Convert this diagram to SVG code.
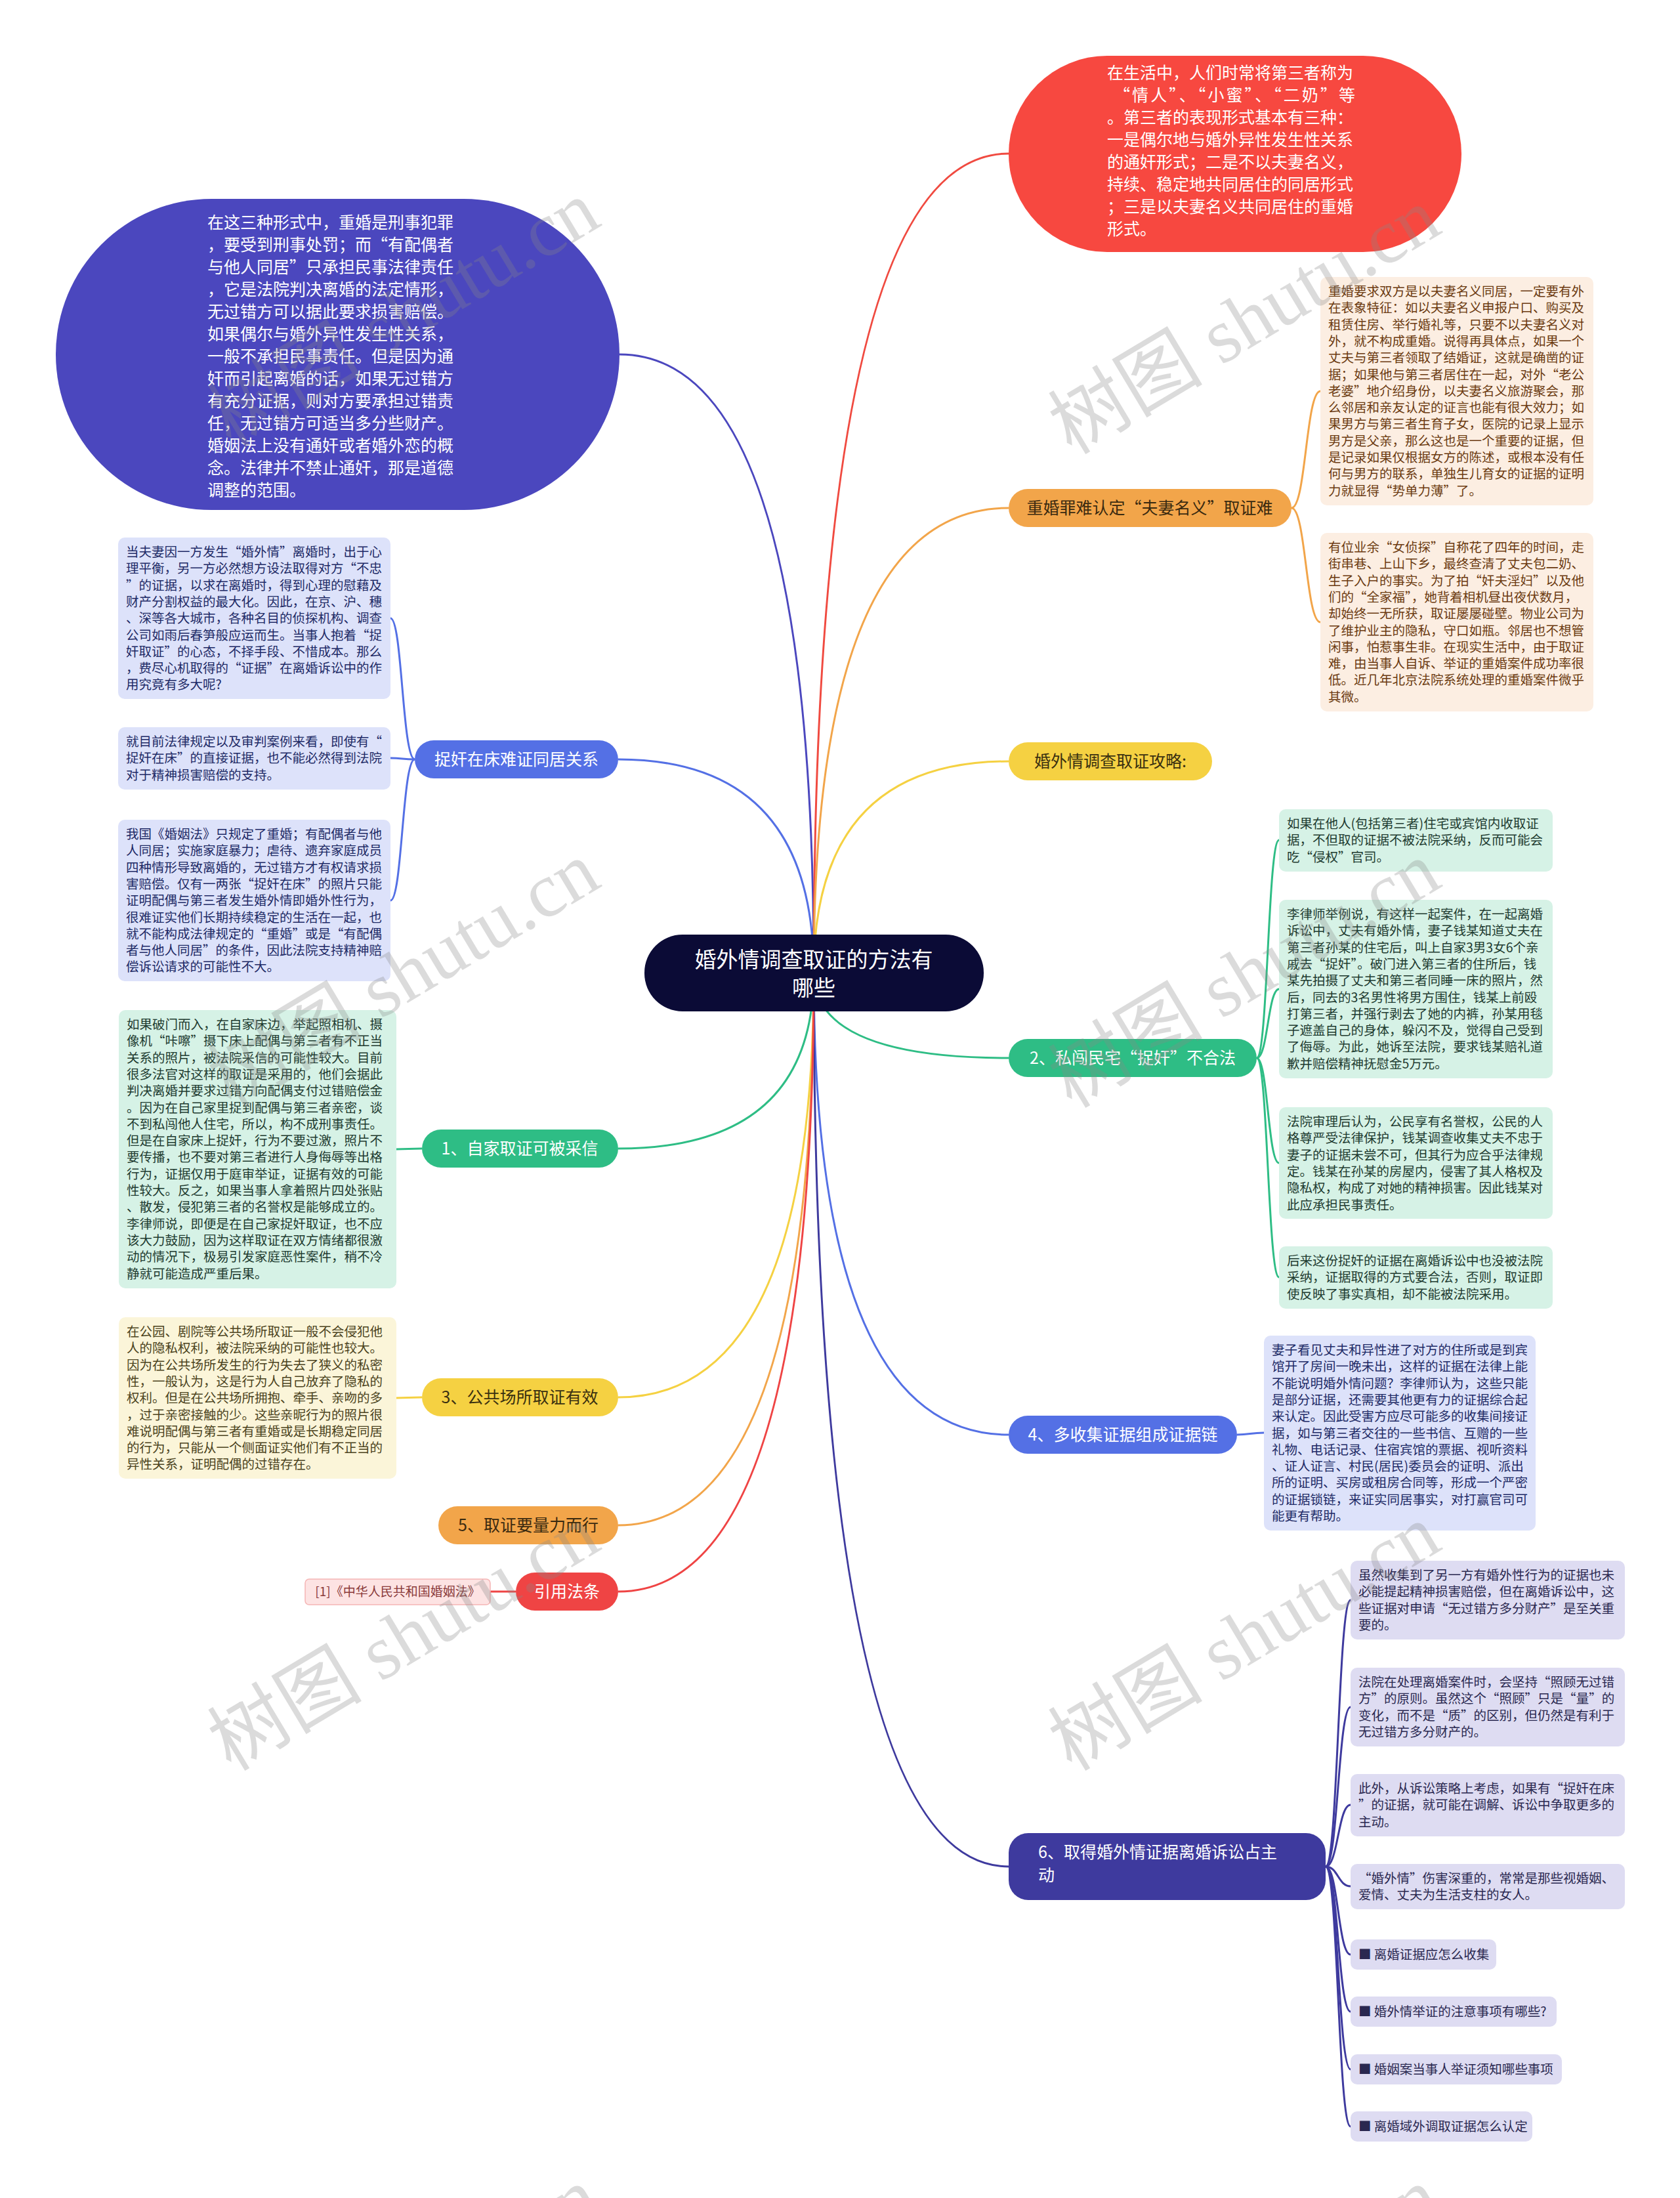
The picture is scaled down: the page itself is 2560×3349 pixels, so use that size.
<svg xmlns="http://www.w3.org/2000/svg" width="2560" height="3349" viewBox="0 0 2560 3349">
<style>
text{font-family:"Noto Sans CJK SC","Noto Sans",sans-serif}
.q{font-feature-settings:"fwid" 1}
.c{fill:none;stroke-width:3}
.sb text,.sb{font-size:19.5px}
.bo{fill:#FCEEE2}.to{fill:#6B3A10}
.bb{fill:#DDE2FA}.tb{fill:#1E2A66}
.bg{fill:#D6F2E6}.tg{fill:#1E3B30}
.by{fill:#FBF5D9}.ty{fill:#4B4320}
.bi{fill:#DEDCF2}.ti{fill:#2A2850}
.lbl{font-size:25px;text-anchor:middle}
.big{font-size:25px;fill:#fff}
.wm{font-family:"Liberation Serif","Noto Sans CJK SC",serif;font-size:118px;fill:#888;fill-opacity:0.3}
</style>
<rect width="2560" height="3349" fill="#fff"/>
<g id="connectors">
<path class="c" stroke="#4B47BE" d="M1240 1482 Q1240 540 944 540"/>
<path class="c" stroke="#F04A40" d="M1240 1482 Q1240 234 1537 234"/>
<path class="c" stroke="#F2A54A" d="M1240 1482 Q1240 774 1537 774"/>
<path class="c" stroke="#F5D142" d="M1240 1482 Q1240 1160 1537 1160"/>
<path class="c" stroke="#2EBD85" d="M1240 1482 Q1240 1612 1537 1612"/>
<path class="c" stroke="#5470E5" d="M1240 1482 Q1240 2186 1537 2186"/>
<path class="c" stroke="#3E3A9E" d="M1240 1482 Q1240 2844 1537 2844"/>
<path class="c" stroke="#5470E5" d="M1240 1482 Q1240 1157 942 1157"/>
<path class="c" stroke="#2EBD85" d="M1240 1482 Q1240 1750 942 1750"/>
<path class="c" stroke="#F5D142" d="M1240 1482 Q1240 2129 942 2129"/>
<path class="c" stroke="#F2A54A" d="M1240 1482 Q1240 2324 942 2324"/>
<path class="c" stroke="#EF4444" d="M1240 1482 Q1240 2425 942 2425"/>
<path class="c" stroke="#F2A54A" d="M1968 774 C1990 774 1990 596 2012 596"/>
<path class="c" stroke="#F2A54A" d="M1968 774 C1990 774 1990 948 2012 948"/>
<path class="c" stroke="#5470E5" d="M632 1157 C613 1157 613 942 595 942"/>
<path class="c" stroke="#5470E5" d="M632 1157 C613 1157 613 1155 595 1155"/>
<path class="c" stroke="#5470E5" d="M632 1157 C613 1157 613 1372 595 1372"/>
<path class="c" stroke="#2EBD85" d="M643 1750 C623 1750 623 1751 604 1751"/>
<path class="c" stroke="#F5D142" d="M643 2129 C623 2129 623 2130 604 2130"/>
<path class="c" stroke="#EF4444" d="M786 2425 C766 2425 766 2425 747 2425"/>
<path class="c" stroke="#2EBD85" d="M1915 1612 C1932 1612 1932 1280 1949 1280"/>
<path class="c" stroke="#2EBD85" d="M1915 1612 C1932 1612 1932 1507 1949 1507"/>
<path class="c" stroke="#2EBD85" d="M1915 1612 C1932 1612 1932 1772 1949 1772"/>
<path class="c" stroke="#2EBD85" d="M1915 1612 C1932 1612 1932 1946 1949 1946"/>
<path class="c" stroke="#5470E5" d="M1885 2186 C1905 2186 1905 2183 1926 2183"/>
<path class="c" stroke="#3E3A9E" d="M2020 2844 C2039 2844 2039 2438 2058 2438"/>
<path class="c" stroke="#3E3A9E" d="M2020 2844 C2039 2844 2039 2601 2058 2601"/>
<path class="c" stroke="#3E3A9E" d="M2020 2844 C2039 2844 2039 2750 2058 2750"/>
<path class="c" stroke="#3E3A9E" d="M2020 2844 C2039 2844 2039 2874 2058 2874"/>
<path class="c" stroke="#3E3A9E" d="M2020 2844 C2039 2844 2039 2978 2058 2978"/>
<path class="c" stroke="#3E3A9E" d="M2020 2844 C2039 2844 2039 3065 2058 3065"/>
<path class="c" stroke="#3E3A9E" d="M2020 2844 C2039 2844 2039 3153 2058 3153"/>
<path class="c" stroke="#3E3A9E" d="M2020 2844 C2039 2844 2039 3240 2058 3240"/>
</g>

<g id="center">
<rect x="982" y="1424" width="517" height="117" rx="58" fill="#0B0B36"/>
<text x="1240" y="1474" font-size="33" fill="#fff" text-anchor="middle">婚外情调查取证的方法有</text>
<text x="1240" y="1517" font-size="33" fill="#fff" text-anchor="middle">哪些</text>
</g>

<g id="n-blue-ellipse">
<rect x="85" y="303" width="859" height="474" rx="237" fill="#4B47BE"/>
<text class="big"><tspan x="316" y="348">在这三种形式中，重婚是刑事犯罪</tspan><tspan x="316" dy="34">，要受到刑事处罚；而<tspan class="q">“</tspan>有配偶者</tspan><tspan x="316" dy="34">与他人同居<tspan class="q">”</tspan>只承担民事法律责任</tspan><tspan x="316" dy="34">，它是法院判决离婚的法定情形，</tspan><tspan x="316" dy="34">无过错方可以据此要求损害赔偿。</tspan><tspan x="316" dy="34">如果偶尔与婚外异性发生性关系，</tspan><tspan x="316" dy="34">一般不承担民事责任。但是因为通</tspan><tspan x="316" dy="34">奸而引起离婚的话，如果无过错方</tspan><tspan x="316" dy="34">有充分证据，则对方要承担过错责</tspan><tspan x="316" dy="34">任，无过错方可适当多分些财产。</tspan><tspan x="316" dy="34">婚姻法上没有通奸或者婚外恋的概</tspan><tspan x="316" dy="34">念。法律并不禁止通奸，那是道德</tspan><tspan x="316" dy="34">调整的范围。</tspan></text>
</g>

<g id="n-red-ellipse">
<rect x="1537" y="85" width="690" height="299" rx="150" fill="#F74840"/>
<text class="big"><tspan x="1687" y="120">在生活中，人们时常将第三者称为</tspan></text>
<text class="big" x="1697" y="154" textLength="368" lengthAdjust="spacing">“情人”、“小蜜”、“二奶”等</text>
<text class="big"><tspan x="1687" y="188">。第三者的表现形式基本有三种：</tspan><tspan x="1687" dy="34">一是偶尔地与婚外异性发生性关系</tspan><tspan x="1687" dy="34">的通奸形式；二是不以夫妻名义，</tspan><tspan x="1687" dy="34">持续、稳定地共同居住的同居形式</tspan><tspan x="1687" dy="34">；三是以夫妻名义共同居住的重婚</tspan><tspan x="1687" dy="34">形式。</tspan></text>
</g>

<g id="b-orange1">
<rect x="1537" y="745" width="431" height="58" rx="29" fill="#F2A54A"/>
<text class="lbl" x="1752" y="783" fill="#3A2A10">重婚罪难认定<tspan class="q">“</tspan>夫妻名义<tspan class="q">”</tspan>取证难</text>
</g>
<g id="n-orange-a" class="sb">
<rect class="bo" x="2012" y="422" width="416" height="348" rx="10"/>
<text class="to"><tspan x="2024" y="451">重婚要求双方是以夫妻名义同居，一定要有外</tspan><tspan x="2024" dy="25.3">在表象特征：如以夫妻名义申报户口、购买及</tspan><tspan x="2024" dy="25.3">租赁住房、举行婚礼等，只要不以夫妻名义对</tspan><tspan x="2024" dy="25.3">外，就不构成重婚。说得再具体点，如果一个</tspan><tspan x="2024" dy="25.3">丈夫与第三者领取了结婚证，这就是确凿的证</tspan><tspan x="2024" dy="25.3">据；如果他与第三者居住在一起，对外<tspan class="q">“</tspan>老公</tspan><tspan x="2024" dy="25.3">老婆<tspan class="q">”</tspan>地介绍身份，以夫妻名义旅游聚会，那</tspan><tspan x="2024" dy="25.3">么邻居和亲友认定的证言也能有很大效力；如</tspan><tspan x="2024" dy="25.3">果男方与第三者生育子女，医院的记录上显示</tspan><tspan x="2024" dy="25.3">男方是父亲，那么这也是一个重要的证据，但</tspan><tspan x="2024" dy="25.3">是记录如果仅根据女方的陈述，或根本没有任</tspan><tspan x="2024" dy="25.3">何与男方的联系，单独生儿育女的证据的证明</tspan><tspan x="2024" dy="25.3">力就显得<tspan class="q">“</tspan>势单力薄<tspan class="q">”</tspan>了。</tspan></text>
</g>
<g id="n-orange-b" class="sb">
<rect class="bo" x="2012" y="812" width="416" height="272" rx="10"/>
<text class="to"><tspan x="2024" y="841">有位业余<tspan class="q">“</tspan>女侦探<tspan class="q">”</tspan>自称花了四年的时间，走</tspan><tspan x="2024" dy="25.3">街串巷、上山下乡，最终查清了丈夫包二奶、</tspan><tspan x="2024" dy="25.3">生子入户的事实。为了拍<tspan class="q">“</tspan>奸夫淫妇<tspan class="q">”</tspan>以及他</tspan><tspan x="2024" dy="25.3">们的<tspan class="q">“</tspan>全家福<tspan class="q">”</tspan>，她背着相机昼出夜伏数月，</tspan><tspan x="2024" dy="25.3">却始终一无所获，取证屡屡碰壁。物业公司为</tspan><tspan x="2024" dy="25.3">了维护业主的隐私，守口如瓶。邻居也不想管</tspan><tspan x="2024" dy="25.3">闲事，怕惹事生非。在现实生活中，由于取证</tspan><tspan x="2024" dy="25.3">难，由当事人自诉、举证的重婚案件成功率很</tspan><tspan x="2024" dy="25.3">低。近几年北京法院系统处理的重婚案件微乎</tspan><tspan x="2024" dy="25.3">其微。</tspan></text>
</g>

<g id="b-yellow1">
<rect x="1537" y="1131" width="310" height="58" rx="29" fill="#F5D142"/>
<text class="lbl" x="1692" y="1169" fill="#3A3010">婚外情调查取证攻略:</text>
</g>

<g id="b-green2">
<rect x="1537" y="1583" width="378" height="58" rx="29" fill="#2EBD85"/>
<text class="lbl" x="1726" y="1621" fill="#fff">2、私闯民宅<tspan class="q">“</tspan>捉奸<tspan class="q">”</tspan>不合法</text>
</g>
<g id="n-green-r1" class="sb">
<rect class="bg" x="1949" y="1233" width="417" height="95" rx="10"/>
<text class="tg"><tspan x="1961" y="1262">如果在他人(包括第三者)住宅或宾馆内收取证</tspan><tspan x="1961" dy="25.3">据，不但取的证据不被法院采纳，反而可能会</tspan><tspan x="1961" dy="25.3">吃<tspan class="q">“</tspan>侵权<tspan class="q">”</tspan>官司。</tspan></text>
</g>
<g id="n-green-r2" class="sb">
<rect class="bg" x="1949" y="1371" width="417" height="272" rx="10"/>
<text class="tg"><tspan x="1961" y="1400">李律师举例说，有这样一起案件，在一起离婚</tspan><tspan x="1961" dy="25.3">诉讼中，丈夫有婚外情，妻子钱某知道丈夫在</tspan><tspan x="1961" dy="25.3">第三者孙某的住宅后，叫上自家3男3女6个亲</tspan><tspan x="1961" dy="25.3">戚去<tspan class="q">“</tspan>捉奸<tspan class="q">”</tspan>。破门进入第三者的住所后，钱</tspan><tspan x="1961" dy="25.3">某先拍摄了丈夫和第三者同睡一床的照片，然</tspan><tspan x="1961" dy="25.3">后，同去的3名男性将男方围住，钱某上前殴</tspan><tspan x="1961" dy="25.3">打第三者，并强行剥去了她的内裤，孙某用毯</tspan><tspan x="1961" dy="25.3">子遮盖自己的身体，躲闪不及，觉得自己受到</tspan><tspan x="1961" dy="25.3">了侮辱。为此，她诉至法院，要求钱某赔礼道</tspan><tspan x="1961" dy="25.3">歉并赔偿精神抚慰金5万元。</tspan></text>
</g>
<g id="n-green-r3" class="sb">
<rect class="bg" x="1949" y="1687" width="417" height="170" rx="10"/>
<text class="tg"><tspan x="1961" y="1716">法院审理后认为，公民享有名誉权，公民的人</tspan><tspan x="1961" dy="25.3">格尊严受法律保护，钱某调查收集丈夫不忠于</tspan><tspan x="1961" dy="25.3">妻子的证据未尝不可，但其行为应合乎法律规</tspan><tspan x="1961" dy="25.3">定。钱某在孙某的房屋内，侵害了其人格权及</tspan><tspan x="1961" dy="25.3">隐私权，构成了对她的精神损害。因此钱某对</tspan><tspan x="1961" dy="25.3">此应承担民事责任。</tspan></text>
</g>
<g id="n-green-r4" class="sb">
<rect class="bg" x="1949" y="1899" width="417" height="95" rx="10"/>
<text class="tg"><tspan x="1961" y="1928">后来这份捉奸的证据在离婚诉讼中也没被法院</tspan><tspan x="1961" dy="25.3">采纳，证据取得的方式要合法，否则，取证即</tspan><tspan x="1961" dy="25.3">使反映了事实真相，却不能被法院采用。</tspan></text>
</g>

<g id="b-blue4">
<rect x="1537" y="2157" width="348" height="58" rx="29" fill="#5470E5"/>
<text class="lbl" x="1711" y="2195" fill="#fff">4、多收集证据组成证据链</text>
</g>
<g id="n-blue-r" class="sb">
<rect class="bb" x="1926" y="2035" width="414" height="297" rx="10"/>
<text class="tb"><tspan x="1938" y="2064">妻子看见丈夫和异性进了对方的住所或是到宾</tspan><tspan x="1938" dy="25.3">馆开了房间一晚未出，这样的证据在法律上能</tspan><tspan x="1938" dy="25.3">不能说明婚外情问题？李律师认为，这些只能</tspan><tspan x="1938" dy="25.3">是部分证据，还需要其他更有力的证据综合起</tspan><tspan x="1938" dy="25.3">来认定。因此受害方应尽可能多的收集间接证</tspan><tspan x="1938" dy="25.3">据，如与第三者交往的一些书信、互赠的一些</tspan><tspan x="1938" dy="25.3">礼物、电话记录、住宿宾馆的票据、视听资料</tspan><tspan x="1938" dy="25.3">、证人证言、村民(居民)委员会的证明、派出</tspan><tspan x="1938" dy="25.3">所的证明、买房或租房合同等，形成一个严密</tspan><tspan x="1938" dy="25.3">的证据锁链，来证实同居事实，对打赢官司可</tspan><tspan x="1938" dy="25.3">能更有帮助。</tspan></text>
</g>

<g id="b-indigo6">
<rect x="1537" y="2793" width="483" height="102" rx="30" fill="#3E3A9E"/>
<text font-size="25" fill="#fff"><tspan x="1582" y="2831">6、取得婚外情证据离婚诉讼占主</tspan><tspan x="1582" y="2866">动</tspan></text>
</g>
<g id="n-ind-1" class="sb">
<rect class="bi" x="2058" y="2378" width="418" height="120" rx="10"/>
<text class="ti"><tspan x="2070" y="2407">虽然收集到了另一方有婚外性行为的证据也未</tspan><tspan x="2070" dy="25.3">必能提起精神损害赔偿，但在离婚诉讼中，这</tspan><tspan x="2070" dy="25.3">些证据对申请<tspan class="q">“</tspan>无过错方多分财产<tspan class="q">”</tspan>是至关重</tspan><tspan x="2070" dy="25.3">要的。</tspan></text>
</g>
<g id="n-ind-2" class="sb">
<rect class="bi" x="2058" y="2541" width="418" height="120" rx="10"/>
<text class="ti"><tspan x="2070" y="2570">法院在处理离婚案件时，会坚持<tspan class="q">“</tspan>照顾无过错</tspan><tspan x="2070" dy="25.3">方<tspan class="q">”</tspan>的原则。虽然这个<tspan class="q">“</tspan>照顾<tspan class="q">”</tspan>只是<tspan class="q">“</tspan>量<tspan class="q">”</tspan>的</tspan><tspan x="2070" dy="25.3">变化，而不是<tspan class="q">“</tspan>质<tspan class="q">”</tspan>的区别，但仍然是有利于</tspan><tspan x="2070" dy="25.3">无过错方多分财产的。</tspan></text>
</g>
<g id="n-ind-3" class="sb">
<rect class="bi" x="2058" y="2703" width="418" height="95" rx="10"/>
<text class="ti"><tspan x="2070" y="2732">此外，从诉讼策略上考虑，如果有<tspan class="q">“</tspan>捉奸在床</tspan><tspan x="2070" dy="25.3"><tspan class="q">”</tspan>的证据，就可能在调解、诉讼中争取更多的</tspan><tspan x="2070" dy="25.3">主动。</tspan></text>
</g>
<g id="n-ind-4" class="sb">
<rect class="bi" x="2058" y="2840" width="418" height="69" rx="10"/>
<text class="ti"><tspan x="2070" y="2869"><tspan class="q">“</tspan>婚外情<tspan class="q">”</tspan>伤害深重的，常常是那些视婚姻、</tspan><tspan x="2070" dy="25.3">爱情、丈夫为生活支柱的女人。</tspan></text>
</g>
<g id="n-ind-5" class="sb">
<rect class="bi" x="2058" y="2955" width="222" height="46" rx="10"/>
<text class="ti" x="2070" y="2985">■ 离婚证据应怎么收集</text>
</g>
<g id="n-ind-6" class="sb">
<rect class="bi" x="2058" y="3042" width="314" height="46" rx="10"/>
<text class="ti" x="2070" y="3072">■ 婚外情举证的注意事项有哪些?</text>
</g>
<g id="n-ind-7" class="sb">
<rect class="bi" x="2058" y="3130" width="322" height="46" rx="10"/>
<text class="ti" x="2070" y="3160">■ 婚姻案当事人举证须知哪些事项</text>
</g>
<g id="n-ind-8" class="sb">
<rect class="bi" x="2058" y="3217" width="277" height="46" rx="10"/>
<text class="ti" x="2070" y="3247">■ 离婚域外调取证据怎么认定</text>
</g>

<g id="b-blue-left">
<rect x="632" y="1128" width="310" height="58" rx="29" fill="#5470E5"/>
<text class="lbl" x="787" y="1166" fill="#fff">捉奸在床难证同居关系</text>
</g>
<g id="n-blue-l1" class="sb">
<rect class="bb" x="180" y="819" width="415" height="246" rx="10"/>
<text class="tb"><tspan x="192" y="848">当夫妻因一方发生<tspan class="q">“</tspan>婚外情<tspan class="q">”</tspan>离婚时，出于心</tspan><tspan x="192" dy="25.3">理平衡，另一方必然想方设法取得对方<tspan class="q">“</tspan>不忠</tspan><tspan x="192" dy="25.3"><tspan class="q">”</tspan>的证据，以求在离婚时，得到心理的慰藉及</tspan><tspan x="192" dy="25.3">财产分割权益的最大化。因此，在京、沪、穗</tspan><tspan x="192" dy="25.3">、深等各大城市，各种名目的侦探机构、调查</tspan><tspan x="192" dy="25.3">公司如雨后春笋般应运而生。当事人抱着<tspan class="q">“</tspan>捉</tspan><tspan x="192" dy="25.3">奸取证<tspan class="q">”</tspan>的心态，不择手段、不惜成本。那么</tspan><tspan x="192" dy="25.3">，费尽心机取得的<tspan class="q">“</tspan>证据<tspan class="q">”</tspan>在离婚诉讼中的作</tspan><tspan x="192" dy="25.3">用究竟有多大呢?</tspan></text>
</g>
<g id="n-blue-l2" class="sb">
<rect class="bb" x="180" y="1108" width="415" height="95" rx="10"/>
<text class="tb"><tspan x="192" y="1137">就目前法律规定以及审判案例来看，即使有<tspan class="q">“</tspan></tspan><tspan x="192" dy="25.3">捉奸在床<tspan class="q">”</tspan>的直接证据，也不能必然得到法院</tspan><tspan x="192" dy="25.3">对于精神损害赔偿的支持。</tspan></text>
</g>
<g id="n-blue-l3" class="sb">
<rect class="bb" x="180" y="1249" width="415" height="246" rx="10"/>
<text class="tb"><tspan x="192" y="1278">我国《婚姻法》只规定了重婚；有配偶者与他</tspan><tspan x="192" dy="25.3">人同居；实施家庭暴力；虐待、遗弃家庭成员</tspan><tspan x="192" dy="25.3">四种情形导致离婚的，无过错方才有权请求损</tspan><tspan x="192" dy="25.3">害赔偿。仅有一两张<tspan class="q">“</tspan>捉奸在床<tspan class="q">”</tspan>的照片只能</tspan><tspan x="192" dy="25.3">证明配偶与第三者发生婚外情即婚外性行为，</tspan><tspan x="192" dy="25.3">很难证实他们长期持续稳定的生活在一起，也</tspan><tspan x="192" dy="25.3">就不能构成法律规定的<tspan class="q">“</tspan>重婚<tspan class="q">”</tspan>或是<tspan class="q">“</tspan>有配偶</tspan><tspan x="192" dy="25.3">者与他人同居<tspan class="q">”</tspan>的条件，因此法院支持精神赔</tspan><tspan x="192" dy="25.3">偿诉讼请求的可能性不大。</tspan></text>
</g>

<g id="b-green1">
<rect x="643" y="1721" width="299" height="58" rx="29" fill="#2EBD85"/>
<text class="lbl" x="792" y="1759" fill="#fff">1、自家取证可被采信</text>
</g>
<g id="n-green-l" class="sb">
<rect class="bg" x="181" y="1539" width="423" height="424" rx="10"/>
<text class="tg"><tspan x="193" y="1568">如果破门而入，在自家床边，举起照相机、摄</tspan><tspan x="193" dy="25.3">像机<tspan class="q">“</tspan>咔嚓<tspan class="q">”</tspan>摄下床上配偶与第三者有不正当</tspan><tspan x="193" dy="25.3">关系的照片，被法院采信的可能性较大。目前</tspan><tspan x="193" dy="25.3">很多法官对这样的取证是采用的，他们会据此</tspan><tspan x="193" dy="25.3">判决离婚并要求过错方向配偶支付过错赔偿金</tspan><tspan x="193" dy="25.3">。因为在自己家里捉到配偶与第三者亲密，谈</tspan><tspan x="193" dy="25.3">不到私闯他人住宅，所以，构不成刑事责任。</tspan><tspan x="193" dy="25.3">但是在自家床上捉奸，行为不要过激，照片不</tspan><tspan x="193" dy="25.3">要传播，也不要对第三者进行人身侮辱等出格</tspan><tspan x="193" dy="25.3">行为，证据仅用于庭审举证，证据有效的可能</tspan><tspan x="193" dy="25.3">性较大。反之，如果当事人拿着照片四处张贴</tspan><tspan x="193" dy="25.3">、散发，侵犯第三者的名誉权是能够成立的。</tspan><tspan x="193" dy="25.3">李律师说，即便是在自己家捉奸取证，也不应</tspan><tspan x="193" dy="25.3">该大力鼓励，因为这样取证在双方情绪都很激</tspan><tspan x="193" dy="25.3">动的情况下，极易引发家庭恶性案件，稍不冷</tspan><tspan x="193" dy="25.3">静就可能造成严重后果。</tspan></text>
</g>

<g id="b-yellow3">
<rect x="643" y="2100" width="299" height="58" rx="29" fill="#F5D142"/>
<text class="lbl" x="792" y="2138" fill="#3A3010">3、公共场所取证有效</text>
</g>
<g id="n-yellow-l" class="sb">
<rect class="by" x="181" y="2007" width="423" height="246" rx="10"/>
<text class="ty"><tspan x="193" y="2036">在公园、剧院等公共场所取证一般不会侵犯他</tspan><tspan x="193" dy="25.3">人的隐私权利，被法院采纳的可能性也较大。</tspan><tspan x="193" dy="25.3">因为在公共场所发生的行为失去了狭义的私密</tspan><tspan x="193" dy="25.3">性，一般认为，这是行为人自己放弃了隐私的</tspan><tspan x="193" dy="25.3">权利。但是在公共场所拥抱、牵手、亲吻的多</tspan><tspan x="193" dy="25.3">，过于亲密接触的少。这些亲昵行为的照片很</tspan><tspan x="193" dy="25.3">难说明配偶与第三者有重婚或是长期稳定同居</tspan><tspan x="193" dy="25.3">的行为，只能从一个侧面证实他们有不正当的</tspan><tspan x="193" dy="25.3">异性关系，证明配偶的过错存在。</tspan></text>
</g>

<g id="b-orange5">
<rect x="668" y="2295" width="274" height="58" rx="29" fill="#F2A54A"/>
<text class="lbl" x="805" y="2333" fill="#3A2A10">5、取证要量力而行</text>
</g>

<g id="b-red">
<rect x="786" y="2396" width="156" height="58" rx="29" fill="#EF4444"/>
<text class="lbl" x="864" y="2434" fill="#fff">引用法条</text>
</g>
<g id="n-law">
<rect x="465" y="2406" width="282" height="39" rx="6" fill="#FDE3E3" stroke="#F5B5B5" stroke-width="1.5"/>
<text x="606" y="2432" font-size="19" fill="#8A3A3A" text-anchor="middle">[1]《中华人民共和国婚姻法》</text>
</g>

<g id="watermarks">
<text class="wm" x="352" y="683" transform="rotate(-31 352 683)">树图 shutu.cn</text>
<text class="wm" x="1633" y="694" transform="rotate(-31 1633 694)">树图 shutu.cn</text>
<text class="wm" x="352" y="1690" transform="rotate(-31 352 1690)">树图 shutu.cn</text>
<text class="wm" x="1633" y="1690" transform="rotate(-31 1633 1690)">树图 shutu.cn</text>
<text class="wm" x="352" y="2700" transform="rotate(-31 352 2700)">树图 shutu.cn</text>
<text class="wm" x="1633" y="2700" transform="rotate(-31 1633 2700)">树图 shutu.cn</text>
<text class="wm" x="352" y="3710" transform="rotate(-31 352 3710)">树图 shutu.cn</text>
<text class="wm" x="1633" y="3710" transform="rotate(-31 1633 3710)">树图 shutu.cn</text>
</g>
</svg>
